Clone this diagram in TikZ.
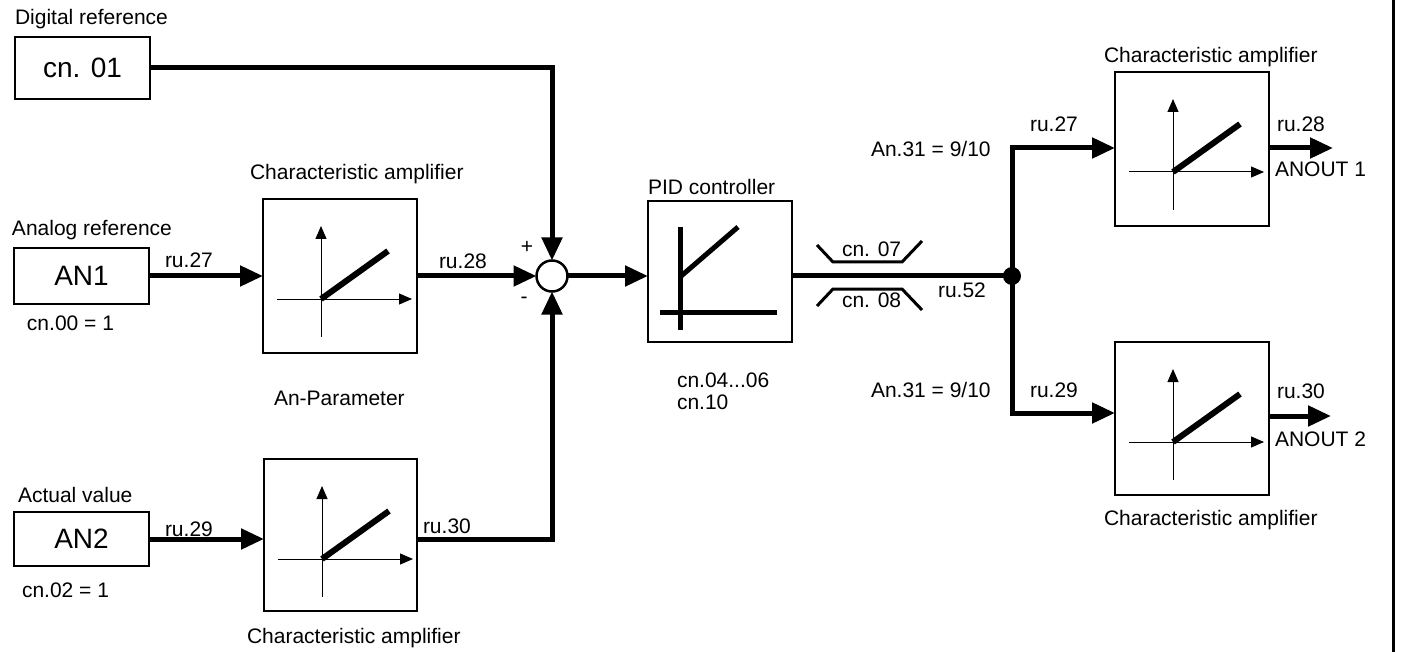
\documentclass[tikz,border=0pt]{standalone}
\usepackage{fontspec}
\setmainfont{Liberation Sans}
\usetikzlibrary{arrows.meta}
\tikzset{
  lbl/.style={inner sep=0pt, outer sep=0pt, anchor=base west, font=\fontsize{21}{25}\selectfont},
  box/.style={draw, line width=2.5pt, inner sep=0pt, outer sep=0pt, rectangle, fill=white},
  bigtxt/.style={font=\fontsize{28}{32}\selectfont},
  conn/.style={line width=5pt, -{Triangle[length=23pt,width=20pt]}},
  wire/.style={line width=5pt},
  axis/.style={line width=1pt, -{Triangle[length=13pt,width=11pt]}},
  sw/.style={line width=3pt},
}
\newcommand\chargr[1]{%
  \begin{scope}[shift={(#1.north west)}]
    \draw[axis] (58,138) -- (58,27);
    \draw[axis] (14,100) -- (149,100);
    \draw[line width=6pt] (58,100) -- (125,52);
  \end{scope}}
\begin{document}
\begin{tikzpicture}[x=1pt,y=-1pt]
\useasboundingbox (0,0) rectangle (1402,652);
% right border
\draw[line width=3pt] (1393,0) -- (1393,652);

% input boxes
\node[box, bigtxt, minimum width=135, minimum height=62] (cn01) at (82.5,68) {cn. 01};
\node[box, bigtxt, minimum width=135, minimum height=56] (an1) at (81.5,276) {AN1};
\node[box, bigtxt, minimum width=135, minimum height=54] (an2) at (81.5,539) {AN2};

% characteristic amplifiers
\node[box, minimum width=154, minimum height=154] (amp1) at (340,276) {};
\node[box, minimum width=153, minimum height=152] (amp2) at (340.5,535) {};
\node[box, minimum width=154, minimum height=154] (amp3) at (1192,149) {};
\node[box, minimum width=154, minimum height=153] (amp4) at (1192,418.5) {};
\chargr{amp1}
\chargr{amp2}
\chargr{amp3}
\chargr{amp4}

% PID
\node[box, minimum width=144, minimum height=141] (pid) at (720,271.5) {};
\begin{scope}[shift={(pid.north west)}]
  \draw[line width=5pt] (32,26) -- (32,129);
  \draw[line width=5pt] (12,111) -- (129,111);
  \draw[line width=5pt] (32,76) -- (90,26);
\end{scope}

% summing junction and branch dot
\node[circle, draw, line width=2.5pt, minimum size=31, inner sep=0pt, outer sep=0pt] (sum) at (552,276) {};
\node[circle, fill, minimum size=18, inner sep=0pt] (dot) at (1012,276) {};
\coordinate (o1) at (1333,148);
\coordinate (o2) at (1331,416);

% connectors
\draw[conn] (cn01.east) -| (sum.north);
\draw[conn] (an1.east) -- (an1.east -| amp1.west);
\draw[conn] (amp1.east) -- (sum.west);
\draw[conn] (an2.east) -- (an2.east -| amp2.west);
\draw[conn] (amp2.east |- an2.east) -| (sum.south);
\draw[conn] (sum.east) -- (sum.east -| pid.west);
\draw[wire] (sum.east -| pid.east) -- (dot.center);
\draw[conn] (dot.center) |- ([yshift=1pt]amp3.west);
\draw[conn] (dot.center) |- ([yshift=5.5pt]amp4.west);
\draw[conn] (amp3.east |- o1) -- (o1);
\draw[conn] (amp4.east |- o2) -- (o2);

% switches
\draw[sw] (817,245) -- (833,262) -- (902,262) -- (922,241);
\draw[sw] (817,306) -- (833,289) -- (902,289) -- (922,310);

% labels
\node[lbl] (t1) at (15,25) {Digital reference};
\node[lbl] (t2) at (12,236) {Analog reference};
\node[lbl] (t3) at (27,330) {cn.00 = 1};
\node[lbl] (t4) at (165,268) {ru.27};
\node[lbl] (t5) at (250,180) {Characteristic amplifier};
\node[lbl] (t6) at (439,269) {ru.28};
\node[inner sep=0pt, font=\fontsize{21}{25}\selectfont] (tp) at (527,247) {+};
\node[inner sep=0pt, font=\fontsize{21}{25}\selectfont] (tm) at (524,300) {-};
\node[lbl] (t7) at (274,405) {An-Parameter};
\node[lbl] (t8) at (18,502) {Actual value};
\node[lbl] (t9) at (22,597) {cn.02 = 1};
\node[lbl] (t10) at (165,536) {ru.29};
\node[lbl] (t11) at (423,533) {ru.30};
\node[lbl] (t12) at (247,643) {Characteristic amplifier};
\node[lbl] (t13) at (648,195) {PID controller};
\node[lbl] (t14) at (677,387) {cn.04...06};
\node[lbl] (t15) at (677,409) {cn.10};
\node[lbl] (t16) at (842,257) {cn. 07};
\node[lbl] (t17) at (842,307) {cn. 08};
\node[lbl] (t18) at (938,297) {ru.52};
\node[lbl] (t19) at (871,157) {An.31 = 9/10};
\node[lbl] (t20) at (871,397) {An.31 = 9/10};
\node[lbl] (t21) at (1030,132) {ru.27};
\node[lbl] (t22) at (1030,397) {ru.29};
\node[lbl] (t23) at (1104,63) {Characteristic amplifier};
\node[lbl] (t24) at (1104,525) {Characteristic amplifier};
\node[lbl] (t25) at (1277,132) {ru.28};
\node[lbl] (t26) at (1275,177) {ANOUT 1};
\node[lbl] (t27) at (1277,398) {ru.30};
\node[lbl] (t28) at (1275,446) {ANOUT 2};
\end{tikzpicture}
\end{document}
